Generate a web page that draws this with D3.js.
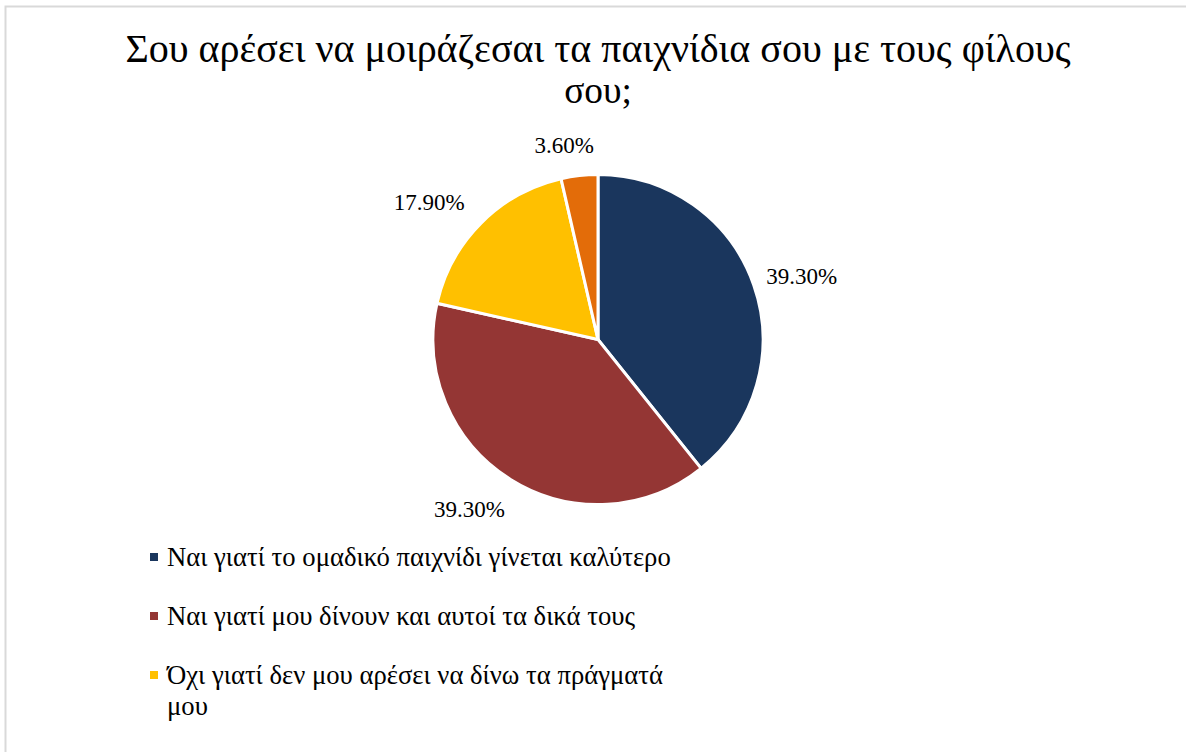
<!DOCTYPE html>
<html>
<head>
<meta charset="utf-8">
<script src="https://cdn.jsdelivr.net/npm/d3@7"></script>
</head>
<body style="margin:0">
<svg id="chart" width="1186" height="752"></svg>
<script>
// Survey answers and their shares (%)
const categories = [
  "Ναι γιατί το ομαδικό παιχνίδι γίνεται καλύτερο",
  "Ναι γιατί μου δίνουν και αυτοί τα δικά τους",
  "Όχι γιατί δεν μου αρέσει να δίνω τα πράγματά μου",
  "Άλλο"
];
const values = [39.3, 39.3, 17.9, 3.6];
const valueLabels = ["39.30%", "39.30%", "17.90%", "3.60%"];
const colors = ["#1a365d", "#943634", "#ffc000", "#e36c09"];
const titleLines = ["Σου αρέσει να μοιράζεσαι τα παιχνίδια σου με τους φίλους", "σου;"];

const FONT = "'Liberation Serif', Tinos, 'Times New Roman', FreeSerif, 'DejaVu Serif', serif";
const W = 1186, H = 752;

// scale a text's font size so that it spans the given width
function fitWidth(node, base, target) {
  d3.select(node).attr("font-size", base);
  const w = node.getComputedTextLength();
  return w > 0 ? base * target / w : base;
}

function draw() {
  const svg = d3.select("#chart");
  svg.selectAll("*").remove();

  // outer frame
  svg.append("rect")
    .attr("x", 5.5).attr("y", 6.5)
    .attr("width", W + 10).attr("height", H + 10)
    .attr("fill", "#fff")
    .attr("stroke", "#d9d9d9")
    .attr("stroke-width", 2);

  // title
  const title = svg.append("text")
    .style("font-family", FONT)
    .attr("text-anchor", "middle");
  const tsp = title.selectAll("tspan").data(titleLines).join("tspan")
    .attr("x", 598)
    .attr("y", (d, i) => 62 + i * 41)
    .text(d => d);
  const titleSize = Math.min(41, fitWidth(tsp.node(), 40, 883));
  title.attr("font-size", titleSize);

  // pie
  const cx = 598, cy = 339.5, R = 165;
  const pie = d3.pie().sort(null).value(d => d.v);
  const arcs = pie(values.map((v, i) => ({ v, i })));
  const arc = d3.arc().innerRadius(0).outerRadius(R);

  const g = svg.append("g").attr("transform", `translate(${cx},${cy})`);
  g.selectAll("path.slice").data(arcs).join("path")
    .attr("class", "slice")
    .attr("d", arc)
    .attr("fill", d => colors[d.data.i])
    .attr("stroke", "#fff")
    .attr("stroke-width", 3)
    .attr("stroke-linejoin", "miter");

  // data labels outside the slices
  const labelR = 190, labelDx = -9, labelDy = 2;
  const labels = g.selectAll("text.lbl").data(arcs).join("text")
    .attr("class", "lbl")
    .style("font-family", FONT)
    .attr("text-anchor", "middle")
    .text(d => valueLabels[d.data.i]);
  const labelSize = Math.min(24, fitWidth(labels.node(), 23, 71));
  labels.attr("font-size", labelSize);
  labels.each(function (d) {
    const a = (d.startAngle + d.endAngle) / 2;
    const s = Math.sin(a), c = Math.cos(a);
    const w = this.getComputedTextLength();
    const bx = labelR * s + s * w / 2 + labelDx;
    const by = -labelR * c - c * 8 + labelDy;
    d3.select(this).attr("x", bx).attr("y", by + 8);
  });

  // legend
  const legendX = 150, legendTextX = 167, legendY0 = 566, rowGap = 59, lineGap = 31, maxW = 515;
  const legend = svg.append("g");
  const probe = legend.append("text").style("font-family", FONT).text(categories[0]);
  const legendSize = Math.min(28, fitWidth(probe.node(), 26, 504));
  probe.remove();
  let y = legendY0;
  categories.forEach((name, i) => {
    legend.append("rect")
      .attr("x", legendX).attr("y", y - 13)
      .attr("width", 8).attr("height", 8)
      .attr("fill", colors[i]);
    const t = legend.append("text").style("font-family", FONT).attr("font-size", legendSize)
      .attr("x", legendTextX).attr("y", y);
    // wrap long labels
    const words = name.split(" ");
    let line = [], lineNo = 0;
    let ts = t.append("tspan").attr("x", legendTextX).attr("y", y);
    words.forEach(wd => {
      line.push(wd);
      ts.text(line.join(" "));
      if (ts.node().getComputedTextLength() > maxW && line.length > 1) {
        line.pop();
        ts.text(line.join(" "));
        line = [wd];
        lineNo++;
        ts = t.append("tspan").attr("x", legendTextX).attr("y", y + lineNo * lineGap).text(wd);
      }
    });
    y += rowGap + lineNo * lineGap;
  });
}

// make sure the serif face is ready before text is measured
const fontReady = document.fonts && document.fonts.load
  ? Promise.all([
      document.fonts.load("40px 'Liberation Serif'", "Σου 39.30%"),
      document.fonts.load("26px 'Liberation Serif'", "Ναι")
    ])
  : Promise.resolve();
Promise.race([fontReady, new Promise(r => setTimeout(r, 400))]).then(draw, draw);
</script>
</body>
</html>
